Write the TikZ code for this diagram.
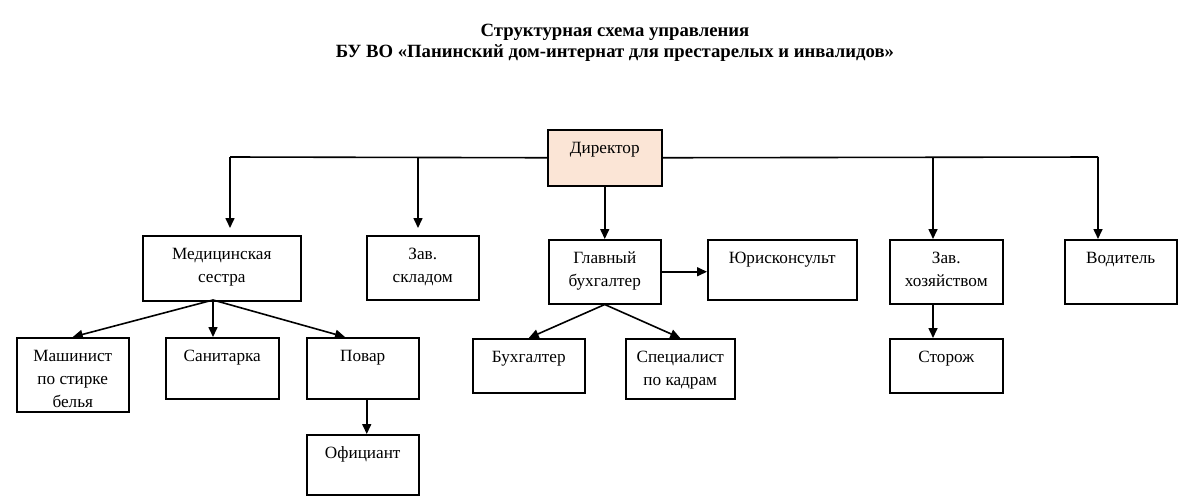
\documentclass[tikz,border=0pt]{standalone}
\usepackage{fontspec}
\setmainfont{Liberation Serif}
\usetikzlibrary{arrows.meta}
\definecolor{peach}{HTML}{FBE5D6}
\begin{document}
\begin{tikzpicture}[x=1pt,y=1pt,
  box/.style={draw, line width=1.5pt, inner sep=0pt, anchor=north west},
  lbl/.style={font=\fontsize{17.2}{23}\selectfont, inner sep=0pt, align=center, anchor=north, yshift=-8pt},
  arr/.style={line width=1.6pt, -{Triangle[length=10pt,width=9pt]}},
  ln/.style={line width=1.6pt},
  ttl/.style={font=\bfseries\fontsize{18.7}{21.5}\selectfont, align=center, inner sep=0pt}]
\useasboundingbox (0,0) rectangle (1200,-498);

\node[ttl] (title) at (615,-43) {Структурная схема управления\\БУ ВО «Панинский дом-интернат для престарелых и инвалидов»};

\node[box, fill=peach, minimum width=114pt, minimum height=56pt, label={[lbl]north:\strut Директор}] (dir) at (547,-129) {};
\node[box, minimum width=158pt, minimum height=65pt, label={[lbl]north:\strut Медицинская\\сестра}] (med) at (142,-235) {};
\node[box, minimum width=112pt, minimum height=64pt, label={[lbl]north:\strut Зав.\\складом}] (skl) at (366,-235) {};
\node[box, minimum width=112pt, minimum height=64pt, label={[lbl]north:\strut Главный\\бухгалтер}] (gb) at (548,-239) {};
\node[box, minimum width=149pt, minimum height=60pt, label={[lbl]north:\strut Юрисконсульт}] (yur) at (707,-239) {};
\node[box, minimum width=113pt, minimum height=64pt, label={[lbl]north:\strut Зав.\\хозяйством}] (zh) at (889,-239) {};
\node[box, minimum width=112pt, minimum height=64pt, label={[lbl]north:\strut Водитель}] (vod) at (1064,-239) {};
\node[box, minimum width=112pt, minimum height=74pt, label={[lbl]north:\strut Машинист\\по стирке\\белья}] (mash) at (16,-337) {};
\node[box, minimum width=113pt, minimum height=61pt, label={[lbl]north:\strut Санитарка}] (san) at (165,-337) {};
\node[box, minimum width=112pt, minimum height=61pt, label={[lbl]north:\strut Повар}] (pov) at (306,-337) {};
\node[box, minimum width=112pt, minimum height=60pt, label={[lbl]north:\strut Официант}] (ofi) at (306,-434) {};
\node[box, minimum width=112pt, minimum height=54pt, label={[lbl]north:\strut Бухгалтер}] (buh) at (472,-338) {};
\node[box, minimum width=109pt, minimum height=60pt, label={[lbl]north:\strut Специалист\\по кадрам}] (spec) at (625,-338) {};
\node[box, minimum width=113pt, minimum height=54pt, label={[lbl]north:\strut Сторож}] (stor) at (889,-338) {};

\coordinate (bL) at (230,-157);
\coordinate (bS) at (418,-157);
\coordinate (bZ) at (933,-157);
\coordinate (bR) at (1098,-157);
\coordinate (ms) at (213,-300);

\draw[ln] (dir.west) -- (bL);
\draw[arr, shorten >=7pt] (bL) -- (bL |- med.north);
\draw[arr, shorten >=7pt] (bS) -- (bS |- skl.north);
\draw[ln] (dir.east) -- (bR);
\draw[arr] (bR) -- (bR |- vod.north);
\draw[arr] (bZ) -- (bZ |- zh.north);
\draw[arr] (dir.south) -- (gb.north);
\draw[arr] (gb.east) -- (gb.east -| yur.west);

\draw[arr] (ms) -- (mash.north);
\draw[arr] (ms) -- (ms |- san.north);
\draw[arr] (ms) -- ([xshift=39pt]pov.north west);
\draw[arr] ([xshift=4pt]pov.south) -- ([xshift=4pt]ofi.north);

\draw[arr] (gb.south) -- (buh.north);
\draw[arr] (gb.south) -- (spec.north);
\draw[arr] (bZ |- zh.south) -- (bZ |- stor.north);
\end{tikzpicture}
\end{document}
